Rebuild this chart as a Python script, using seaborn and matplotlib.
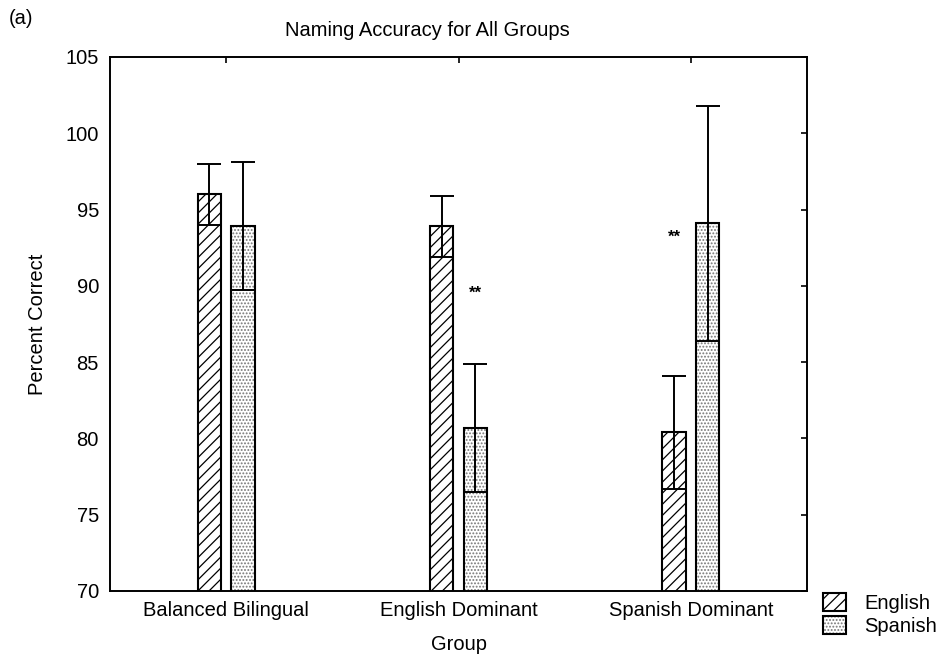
import matplotlib
matplotlib.use("Agg")
import matplotlib.pyplot as plt
import pandas as pd
import seaborn as sns
from matplotlib.patches import Patch, Rectangle
from matplotlib.legend_handler import HandlerTuple

# values
groups = ["Balanced Bilingual", "English Dominant", "Spanish Dominant"]
languages = ["English", "Spanish"]
english_mean = [96.0, 93.9, 80.4]
spanish_mean = [93.9, 80.7, 94.1]
english_err = [2.0, 2.0, 3.7]
spanish_err = [4.2, 4.2, 7.7]
y_ticks = [70, 75, 80, 85, 90, 95, 100, 105]

# "**" markers: which group / bar and at what height
sig_group = [1, 2]
sig_lang = ["Spanish", "English"]
sig_y = [89.5, 93.2]

df = pd.DataFrame({
    "Group": groups * 2,
    "Language": ["English"] * 3 + ["Spanish"] * 3,
    "Percent": english_mean + spanish_mean,
})

sns.set_theme(style="white")
plt.rcParams["font.family"] = ["Liberation Sans", "DejaVu Sans"]
plt.rcParams["hatch.linewidth"] = 0.9
for key in ["text.color", "axes.labelcolor", "xtick.color", "ytick.color"]:
    plt.rcParams[key] = "black"

fs = 14.5
lw = 1.5
fig = plt.figure(figsize=(9.48, 6.66), dpi=100)
ax = fig.add_axes([110 / 948, 1 - 591 / 666, 697 / 948, 534 / 666])

sns.barplot(data=df, x="Group", y="Percent", hue="Language",
            order=groups, hue_order=languages, width=0.29, gap=0.3,
            palette=["white", "white"], edgecolor="black", linewidth=lw,
            errorbar=None, legend=False, ax=ax)

bars = sorted(ax.patches, key=lambda p: p.get_x())
for i, p in enumerate(bars):
    if i % 2 == 0:
        p.set_hatch("///")
    else:
        p.set_hatch(".....")
        p.set_edgecolor("#777777")
        p.set_linewidth(0)
        ax.add_patch(Rectangle((p.get_x(), p.get_y()), p.get_width(), p.get_height(),
                               fill=False, edgecolor="black", linewidth=lw))

centers = [p.get_x() + p.get_width() / 2 for p in bars]
means, errs = [], []
for e, s, ee, se in zip(english_mean, spanish_mean, english_err, spanish_err):
    means += [e, s]
    errs += [ee, se]
ax.errorbar(centers, means, yerr=errs, fmt="none", ecolor="black",
            elinewidth=1.4, capsize=8.6, capthick=1.4, zorder=5)

for g, lang, y in zip(sig_group, sig_lang, sig_y):
    idx = g * 2 + languages.index(lang)
    ax.text(centers[idx], y, "**", ha="center", va="center",
            fontsize=12, fontweight="bold")

ax.set_ylim(70, 105)
ax.set_xlim(-0.5, 2.5)
ax.set_yticks(y_ticks)
for s in ax.spines.values():
    s.set_color("black")
    s.set_linewidth(1.4)
ax.tick_params(axis="both", direction="in", length=4, width=1.2, colors="black",
               top=True, right=True, labelsize=fs)
ax.tick_params(axis="x", pad=7)
ax.tick_params(axis="y", pad=8)
ax.set_xlabel("Group", fontsize=fs, labelpad=11)
ax.set_ylabel("Percent Correct", fontsize=fs, labelpad=13)

fig.text(427 / 948, 1 - 30 / 666, "Naming Accuracy for All Groups",
         ha="center", va="center", fontsize=fs)
fig.text(9 / 948, 1 - 18 / 666, "(a)", ha="left", va="center", fontsize=fs)

eng_handle = Patch(facecolor="white", edgecolor="black", hatch="///", linewidth=lw)
spa_handle = (Patch(facecolor="white", edgecolor="#777777", hatch=".....", linewidth=0),
              Patch(fill=False, edgecolor="black", linewidth=lw))
fig.legend([eng_handle, spa_handle], languages,
           handler_map={tuple: HandlerTuple(ndivide=1, pad=0)},
           loc="upper left", bbox_to_anchor=(823 / 948, 1 - 593 / 666),
           frameon=False, borderpad=0, borderaxespad=0, handlelength=1.15,
           handleheight=1.0, handletextpad=0.9, labelspacing=0.15, fontsize=fs)

fig.savefig("out.png", dpi=100)
